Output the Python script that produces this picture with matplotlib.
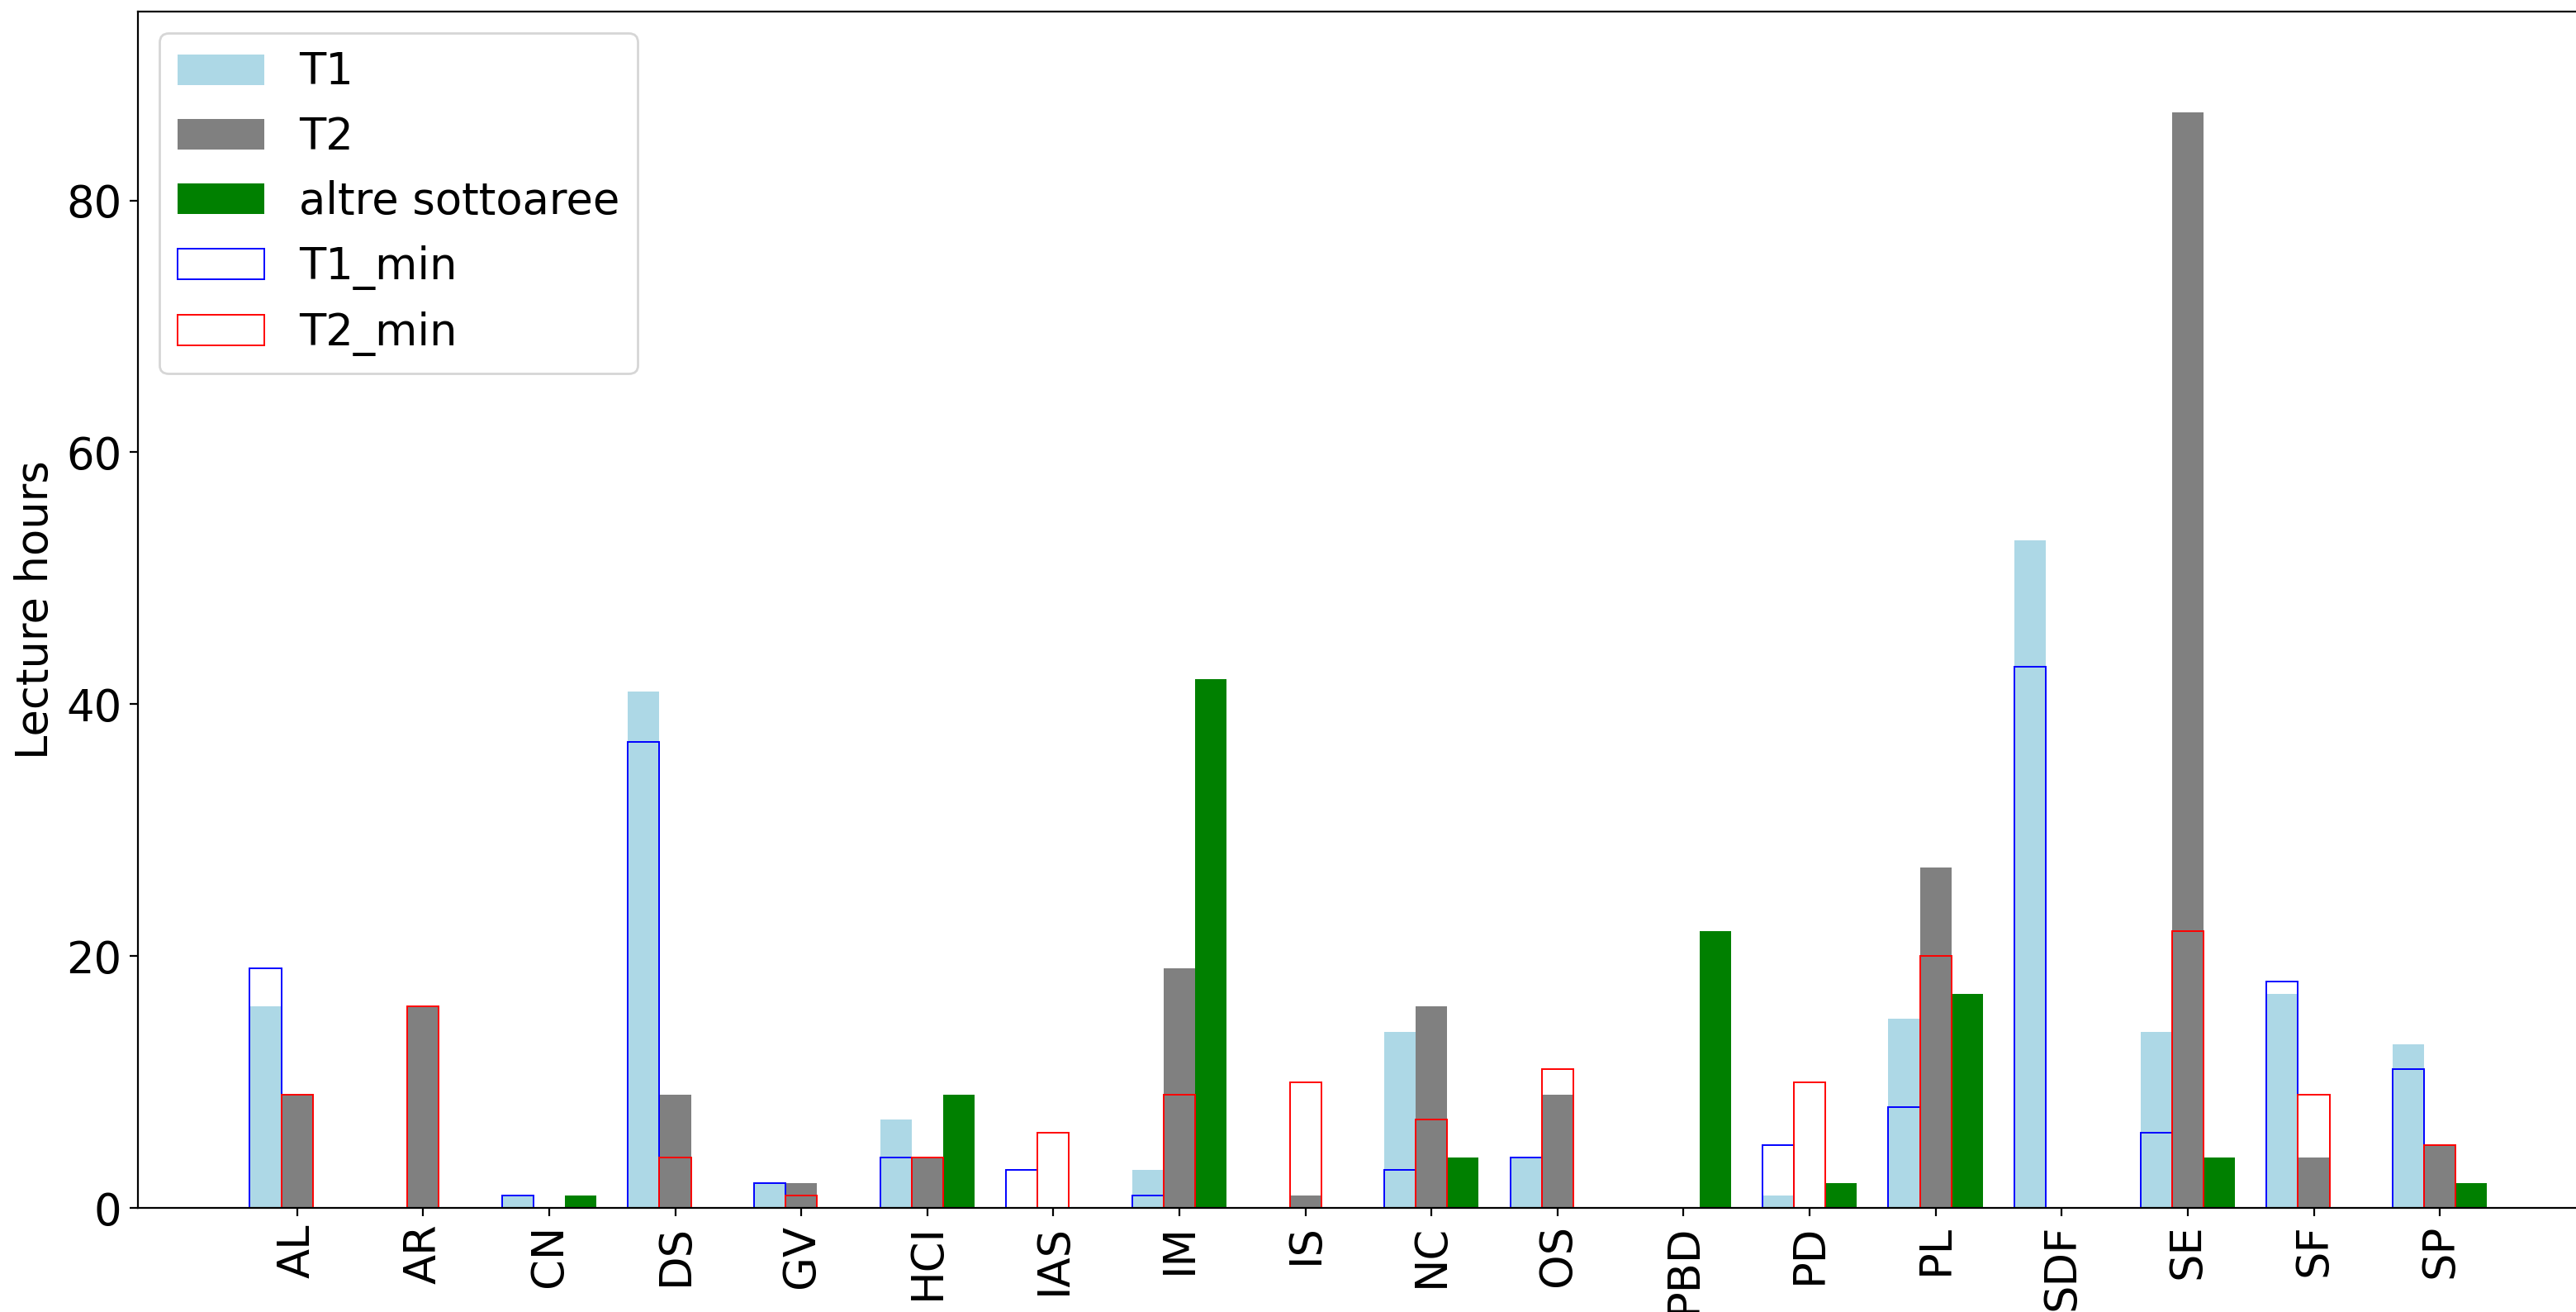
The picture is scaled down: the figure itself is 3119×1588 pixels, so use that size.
import numpy as np
import matplotlib
matplotlib.use("Agg")
import matplotlib.pyplot as plt

categories = ['AL', 'AR', 'CN', 'DS', 'GV', 'HCI', 'IAS', 'IM', 'IS',
              'NC', 'OS', 'PBD', 'PD', 'PL', 'SDF', 'SE', 'SF', 'SP']
t1 = [16, 0, 1, 41, 2, 7, 0, 3, 0, 14, 4, 0, 1, 15, 53, 14, 17, 13]
t2 = [9, 16, 0, 9, 2, 4, 0, 19, 1, 16, 9, 0, 0, 27, 0, 87, 4, 5]
altre = [0, 0, 1, 0, 0, 9, 0, 42, 0, 4, 0, 22, 2, 17, 0, 4, 0, 2]
t1_min = [19, 0, 1, 37, 2, 4, 3, 1, 0, 3, 4, 0, 5, 8, 43, 6, 18, 11]
t2_min = [9, 16, 0, 4, 1, 4, 6, 9, 10, 7, 11, 0, 10, 20, 0, 22, 9, 5]

plt.rcParams['font.size'] = 19

fig = plt.figure(figsize=(15.595, 7.94), dpi=200)
# axes runs off the right edge in the original, so no right spine
ax = fig.add_axes([167 / 3119, 126 / 1588, 2952 / 3119, 1448 / 1588])

x = np.arange(len(categories))
w = 0.25
ax.bar(x - w, t1, w, color='lightblue', label='T1')
ax.bar(x, t2, w, color='grey', label='T2')
ax.bar(x + w, altre, w, color='green', label='altre sottoaree')
ax.bar(x - w, t1_min, w, fill=False, edgecolor='blue', linewidth=0.7, label='T1_min')
ax.bar(x, t2_min, w, fill=False, edgecolor='red', linewidth=0.7, label='T2_min')

ax.set_xticks(x)
ax.set_xticklabels(categories, rotation=90)
ax.set_xlim(-1.2625, 18.08)
ax.set_ylim(0, 95)
ax.spines['right'].set_visible(False)
ax.set_ylabel('Lecture hours')
ax.legend(loc='upper left', fontsize=19)

fig.savefig('out.png', dpi=200)
